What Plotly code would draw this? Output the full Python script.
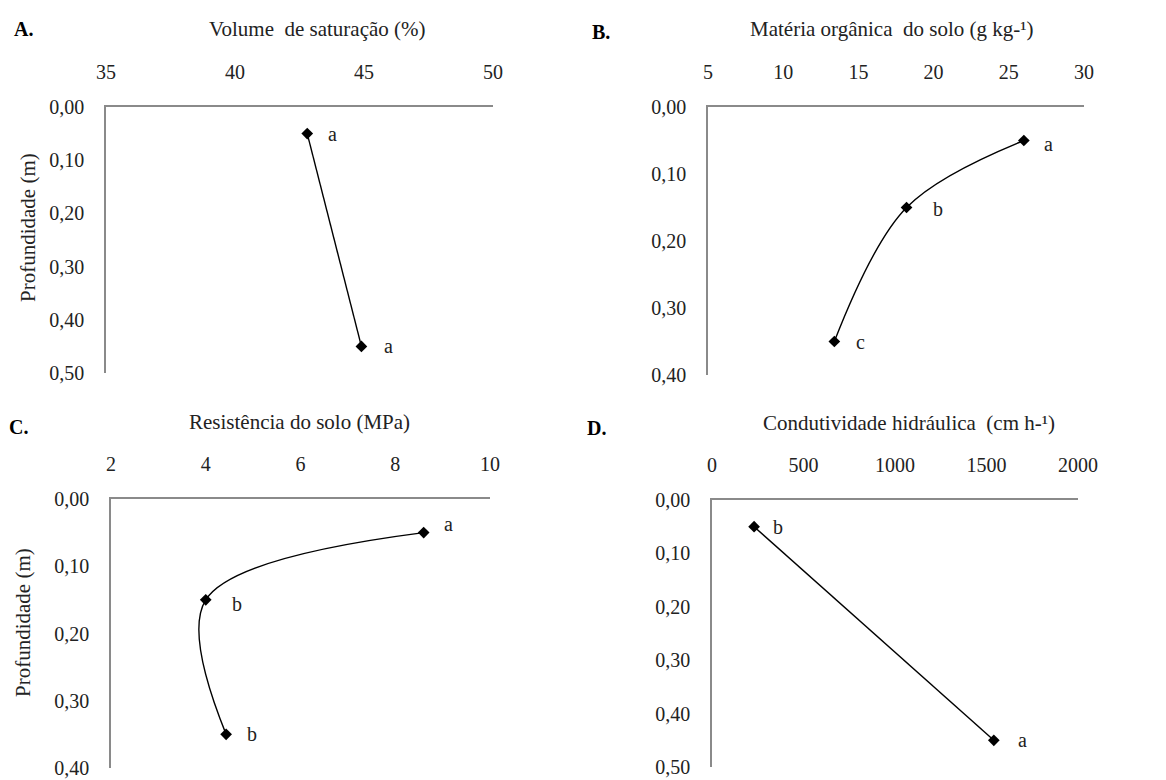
import plotly.graph_objects as go

# ---- data ----
depth_A = [0.05, 0.45]
vol_sat = [42.8, 44.9]
letters_A = ["a", "a"]

depth_B = [0.05, 0.15, 0.35]
mat_org = [26.0, 18.2, 13.4]
letters_B = ["a", "b", "c"]

depth_C = [0.05, 0.15, 0.35]
resist = [8.6, 4.0, 4.43]
letters_C = ["a", "b", "b"]

depth_D = [0.05, 0.45]
cond_hid = [230, 1540]
letters_D = ["b", "a"]

titles = ["Volume  de saturação (%)", "Matéria orgânica  do solo (g kg-¹)",
          "Resistência do solo (MPa)", "Condutividade hidráulica  (cm h-¹)"]
panel_tags = ["A.", "B.", "C.", "D."]
y_title = "Profundidade (m)"

# page body has an 8px margin; place the figure so it ends at the window edges
OFF = 8
W, H = 1166 - 2 * OFF, 780 - OFF
FONT = "Liberation Serif, Times New Roman, serif"
FS = 20
FS_T = 21
AXIS_COLOR = "#8a8a8a"


def px(x):
    return (x - OFF) / W


def py(y):
    return 1 - (y - OFF) / H


panels = [
    dict(x=vol_sat, y=depth_A, lab=letters_A, shape="linear",
         xdom=(106, 493), ydom=(107, 373), xr=[35, 50], xd=5, yr=[0.5, 0],
         shifts=[(25, 0), (27, 0)],
         title_pos=(317, 29), tag_pos=(23, 29), ytitle_pos=(28, 228)),
    dict(x=mat_org, y=depth_B, lab=letters_B, shape="spline",
         xdom=(708, 1084), ydom=(107, 375), xr=[5, 30], xd=5, yr=[0.4, 0],
         shifts=[(25, -3), (31, -1), (26, 0)],
         title_pos=(892, 29), tag_pos=(601, 32), ytitle_pos=None),
    dict(x=resist, y=depth_C, lab=letters_C, shape="spline",
         xdom=(111, 490), ydom=(499, 768), xr=[2, 10], xd=2, yr=[0.4, 0],
         shifts=[(25, 9), (31, -4), (26, 0)],
         title_pos=(299, 422), tag_pos=(18, 427), ytitle_pos=(23, 623)),
    dict(x=cond_hid, y=depth_D, lab=letters_D, shape="linear",
         xdom=(712, 1078), ydom=(500, 767), xr=[0, 2000], xd=500, yr=[0.5, 0],
         shifts=[(24, 0), (29, 0)],
         title_pos=(909, 423), tag_pos=(596, 428), ytitle_pos=None),
]

fig = go.Figure()
annotations = []
layout = {}

for i, p in enumerate(panels):
    n = "" if i == 0 else str(i + 1)
    xa, ya = "x" + n, "y" + n
    fig.add_trace(go.Scatter(
        x=p["x"], y=p["y"], xaxis=xa, yaxis=ya, mode="lines+markers",
        line=dict(color="#000000", width=1.4, shape=p["shape"]),
        marker=dict(symbol="diamond", size=9, color="#000000"),
        showlegend=False, hoverinfo="skip", cliponaxis=False))

    layout["xaxis" + n] = dict(
        domain=[px(p["xdom"][0]), px(p["xdom"][1])], range=p["xr"], dtick=p["xd"],
        side="top", anchor=ya, showline=True, linecolor=AXIS_COLOR, linewidth=1.5,
        showgrid=False, zeroline=False, ticks="", ticklabelstandoff=18,
        automargin=False,
        tickfont=dict(family=FONT, size=FS, color="#222"))
    layout["yaxis" + n] = dict(
        domain=[py(p["ydom"][1]), py(p["ydom"][0])], range=p["yr"], dtick=0.1,
        tickformat=".2f", anchor=xa, showline=True, linecolor=AXIS_COLOR,
        linewidth=1.5, showgrid=False, zeroline=False, ticks="",
        automargin=False,
        ticklabelstandoff=16, tickfont=dict(family=FONT, size=FS, color="#222"))

    for xv, yv, t, (dx, dy) in zip(p["x"], p["y"], p["lab"], p["shifts"]):
        annotations.append(dict(x=xv, y=yv, xref=xa, yref=ya, text=t,
                                showarrow=False, xshift=dx, yshift=dy,
                                font=dict(family=FONT, size=FS, color="#222")))

    tx, ty = p["title_pos"]
    annotations.append(dict(x=px(tx), y=py(ty), xref="paper", yref="paper",
                            text=titles[i], showarrow=False,
                            xanchor="center", yanchor="middle",
                            font=dict(family=FONT, size=FS_T, color="#222")))
    gx, gy = p["tag_pos"]
    annotations.append(dict(x=px(gx), y=py(gy), xref="paper", yref="paper",
                            text="<b>" + panel_tags[i] + "</b>", showarrow=False,
                            xanchor="center", yanchor="middle",
                            font=dict(family=FONT, size=FS, color="#000")))
    if p["ytitle_pos"]:
        yx, yy = p["ytitle_pos"]
        annotations.append(dict(x=px(yx), y=py(yy), xref="paper", yref="paper",
                                text=y_title, showarrow=False, textangle=-90,
                                xanchor="center", yanchor="middle",
                                font=dict(family=FONT, size=FS_T, color="#222")))

fig.update_layout(
    width=W, height=H, margin=dict(l=0, r=0, t=0, b=0),
    paper_bgcolor="white", plot_bgcolor="white", separators=",.",
    annotations=annotations, **layout)

fig.write_html("out.html")
